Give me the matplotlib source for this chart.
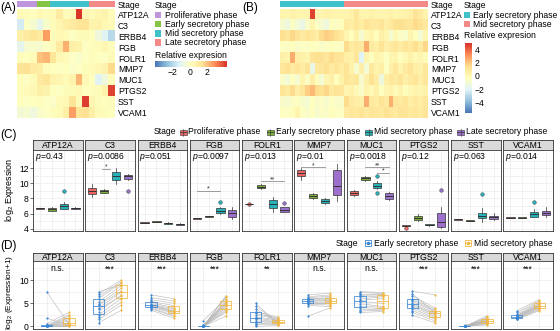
import numpy as np
import matplotlib.pyplot as plt
from matplotlib.colors import LinearSegmentedColormap, ListedColormap
from matplotlib.patches import Rectangle

plt.rcParams['font.family'] = ['Liberation Sans', 'DejaVu Sans']
plt.rcParams['mathtext.fontset'] = 'custom'
plt.rcParams['mathtext.rm'] = 'Liberation Sans'
plt.rcParams['mathtext.it'] = 'Liberation Sans:italic'

genes = ['ATP12A', 'C3', 'ERBB4', 'FGB', 'FOLR1', 'MMP7', 'MUC1', 'PTGS2', 'SST', 'VCAM1']
stages = ['Proliferative phase', 'Early secretory phase', 'Mid secretory phase', 'Late secretory phase']
stage_bar_colors = ['#BF96DC', '#86C443', '#3EC1C8', '#F28A88']
box_colors = ['#EC6464', '#7DAF3A', '#23B3B8', '#9C70CC']
pair_colors = ['#3A86D4', '#F2B642']
heat_colors = ['#4575B4', '#91BFDB', '#E0F3F8', '#FFFFBF', '#FEE090', '#FC8D59', '#D73027']

# (A) relative expression, 4 stages
stage_counts_a = [3, 2, 6, 4]
heat_a = [
    [0.3, 0.2, 0.1, 0.4, 0.2, 0.3, 1.0, 0.2, 0.3, 4.2, 0.4, 0.3, 0.5, 0.6, 0.2],
    [-1.5, 0.0, -0.3, -1.0, -0.2, 0.2, 0.5, 0.8, 1.0, 1.2, 1.3, 0.6, 0.7, 0.4, 0.3],
    [0.8, 1.0, 1.2, 1.0, 2.6, 0.2, 0.4, 0.3, 0.0, 0.2, 0.3, 0.1, -0.6, -1.2, -2.0],
    [-1.0, -0.3, -0.2, -0.3, 0.0, 0.2, 1.0, 2.3, 0.8, 0.6, 0.0, 0.2, 0.3, 0.5, 0.2],
    [0.2, 0.1, 0.3, 2.0, 2.2, 1.2, 0.4, 0.3, 0.0, -0.2, 0.0, 0.2, 0.1, 0.0, 0.3],
    [1.3, 1.4, 1.0, 0.8, 0.2, 0.1, 0.0, 0.1, -0.1, 0.0, 0.2, 0.3, 0.4, 0.6, 1.6],
    [0.2, 0.0, 0.3, 1.0, 1.2, 0.6, 0.5, 0.3, 0.6, 2.2, 0.4, 0.1, -1.2, -0.6, 0.2],
    [0.2, 0.3, 0.4, 0.8, 0.6, 0.1, 0.0, 0.2, 0.3, 0.4, 0.1, 0.2, 0.3, 0.6, 4.0],
    [0.1, 0.0, 0.1, 0.2, 0.0, -0.1, 0.3, 0.4, 1.3, 0.3, 4.1, 0.5, 0.2, 0.1, 0.2],
    [-0.4, -0.3, -0.6, -0.2, 0.0, 0.2, 0.3, 0.8, 2.6, 1.2, 1.4, 0.8, 0.3, 0.2, 0.1],
]

# (B) relative expression, early vs mid secretory
stage_counts_b = [13, 17]
heat_b = [
    [0.3, 0.2, 0.4, 0.3, 0.2, 0.3, 4.5, 0.3, 0.2, 0.4, 0.3, 0.2, 0.3, 0.2, 0.4, 1.0, 0.3, 0.2, 0.4, 0.3, 0.2, 0.3, 0.4, 0.2, 0.3, 0.4, 0.5, 1.2, 0.8, 0.3],
    [-0.8, -1.2, -0.5, -1.0, -1.5, -0.6, 0.2, -0.4, -0.8, -1.3, -0.3, -0.5, -0.2, 0.8, 0.6, 1.0, 0.7, 1.2, 0.9, 0.8, 1.1, 0.6, 0.9, 1.3, 1.4, 1.2, 1.0, 1.5, 1.3, 0.9],
    [1.4, 1.0, 1.6, 1.2, 0.8, 1.1, 0.9, 0.7, 1.5, 1.8, 1.6, 1.3, 0.9, 0.2, -0.3, 0.4, -0.8, 0.1, 0.3, -0.2, 0.5, 0.2, -0.9, 0.1, -0.5, -0.7, 0.3, -0.2, -1.0, 0.2],
    [-0.4, -0.5, -0.3, -0.6, -0.4, -0.5, -0.3, -0.4, -0.6, -0.5, -0.3, -0.4, -0.5, 1.5, 0.8, 1.0, 0.9, 2.5, 0.8, 0.6, 1.2, 0.5, 0.8, 1.0, 0.7, 1.1, 0.9, 1.4, 0.8, 1.6],
    [0.5, 0.3, 2.5, 0.6, 0.4, 0.3, 1.2, 1.4, 1.3, 1.0, 1.5, 1.2, 1.1, 0.6, 0.4, 1.0, -2.0, 0.2, -0.3, 0.3, 0.1, -0.4, 0.2, 0.3, -0.2, 0.1, 0.4, 0.0, 0.2, -0.1],
    [1.0, 1.3, 0.8, 1.1, 0.7, 1.2, -1.5, 0.9, 1.0, 1.3, 0.8, 1.1, 0.7, 1.2, 0.4, -0.8, 0.6, -1.0, 0.9, 0.3, 0.6, -0.4, 0.5, 1.0, 0.3, 0.8, 1.2, 0.6, 0.4, 1.0],
    [-0.6, -1.0, -0.3, -0.8, 0.3, -0.5, 0.6, -0.2, -0.9, 0.2, 0.5, -0.3, 0.4, 1.2, 0.9, 1.0, -0.8, 0.5, 1.3, 0.7, -1.2, 0.6, 1.0, 0.8, 1.2, 0.5, 0.9, 1.1, 0.6, 1.0],
    [1.2, 0.8, 1.5, 0.6, 1.0, 1.8, 2.2, 1.5, 1.3, 1.6, 0.9, 1.2, 1.0, 0.2, 0.4, 0.0, -0.6, 0.3, 0.1, 0.5, -0.3, 0.2, 0.4, 0.0, 0.3, -0.2, 0.1, 0.3, 0.2, 0.4],
    [-0.6, -0.8, -0.5, -0.4, -0.7, -0.9, -0.3, -0.6, -0.5, -0.8, -0.4, -0.6, -0.7, 1.5, 0.8, 0.6, 0.5, 2.5, 0.9, 0.7, 1.2, 0.8, 2.4, 1.0, 0.8, 1.1, 0.6, 0.9, 0.7, 1.0],
    [-0.3, -0.5, -0.2, 0.3, -0.4, -0.6, -0.3, -0.8, -0.5, -0.6, -0.2, -0.4, -0.5, 0.8, 1.0, 0.9, 1.2, 0.8, 1.1, 1.0, 0.9, 1.3, 1.0, 0.8, 1.2, 1.1, 0.9, 1.0, 0.8, 1.2],
]

# (C) log2 expression box summaries, per gene x 4 stages
c_pvals = ['0.43', '0.0086', '0.051', '0.0097', '0.013', '0.01', '0.0018', '0.12', '0.063', '0.014']
c_med = [[6.7, 6.55, 7.0, 6.7], [9.0, 9.0, 10.9, 10.9], [4.8, 4.95, 4.75, 4.6],
         [5.38, 5.62, 6.34, 6.04], [7.27, 9.56, 7.27, 6.5], [11.42, 8.3, 7.65, 9.66],
         [8.77, 10.68, 9.7, 8.33], [4.4, 5.46, 4.5, 4.93], [5.24, 5.06, 5.72, 5.5],
         [5.46, 5.46, 5.9, 6.1]]
c_q1 = [[6.65, 6.34, 6.6, 6.62], [8.56, 8.77, 10.45, 10.58], [4.74, 4.88, 4.69, 4.53],
        [5.33, 5.57, 6.04, 5.59], [7.22, 9.35, 6.78, 6.25], [11.02, 8.03, 7.36, 8.46],
        [8.46, 10.45, 9.35, 7.93], [4.36, 5.15, 4.43, 4.27], [5.2, 5.03, 5.38, 5.28],
        [5.42, 5.42, 5.59, 5.81]]
c_q3 = [[6.76, 6.78, 7.23, 6.78], [9.43, 9.13, 11.55, 11.1], [4.86, 5.02, 4.81, 4.67],
        [5.43, 5.67, 6.7, 6.48], [7.32, 9.75, 7.8, 6.83], [11.78, 8.56, 7.93, 11.7],
        [9.0, 10.8, 10.0, 8.68], [4.44, 5.72, 4.57, 6.04], [5.28, 5.09, 6.04, 5.72],
        [5.5, 5.5, 6.17, 6.35]]
c_lo = [[6.6, 6.3, 6.55, 6.58], [8.24, 8.7, 9.88, 10.5], [4.7, 4.85, 4.65, 4.48],
        [5.28, 5.52, 5.95, 5.3], [7.18, 9.25, 6.25, 6.15], [10.45, 7.9, 7.25, 7.67],
        [8.3, 10.35, 9.2, 7.8], [4.32, 5.0, 4.38, 4.15], [5.15, 5.0, 4.93, 5.2],
        [5.38, 5.38, 5.5, 5.6]]
c_hi = [[6.8, 6.85, 7.5, 6.82], [9.88, 9.2, 12.0, 11.2], [4.9, 5.06, 4.85, 4.72],
        [5.48, 5.72, 6.9, 6.9], [7.36, 9.85, 8.24, 6.9], [12.0, 8.7, 8.05, 12.5],
        [9.1, 10.9, 10.3, 8.9], [4.48, 5.9, 4.62, 6.9], [5.32, 5.12, 6.7, 6.04],
        [5.54, 5.54, 6.6, 6.9]]
c_out = [[[], [], [9.04], []], [[], [], [], [9.0]], [[], [], [], []],
         [[], [], [7.58], []], [[7.3], [], [], [7.45]], [[], [], [], []],
         [[], [], [11.0, 8.68], []], [[4.05], [], [], [9.13]], [[], [], [8.56], []],
         [[], [], [7.58], []]]
# significance bars: gene index, from group, to group, height, label
c_sig = [(1, 1.8, 2.5, 11.9, '*'), (3, 1, 3, 9.0, '*'), (4, 2, 4, 10.3, '**'),
         (5, 1, 3, 12.1, '*'), (6, 2, 4, 12.1, '**'), (6, 3, 4, 11.4, '*')]

# (D) paired log2(expression+1), early vs mid secretory
d_labels = ['n.s.', '***', '***', '***', '**', 'n.s.', 'n.s.', '***', '***', '***']
d_early = [
    [7.5, 1.8, 0.6, 0.2, 0.1, 0, 0, 0, 0, 0, 0, 0, 0.3, 0],
    [0.8, 1.5, 2.0, 2.5, 3.2, 4.0, 4.6, 4.8, 5.3, 6.0, 6.5, 7.0, 7.5, 3.8],
    [3.5, 3.8, 4.0, 4.2, 4.4, 4.5, 4.6, 4.7, 4.9, 5.2, 5.4, 5.8, 6.2, 6.8],
    [0, 0, 0, 0, 0, 0.1, 0.2, 0, 0, 0.3, 0, 1.2, 0, 0],
    [0, 0.5, 0.8, 1.2, 1.5, 1.8, 2.0, 2.5, 2.8, 3.2, 3.7, 4.3, 5.0, 0.3],
    [2.2, 4.5, 4.8, 5.0, 5.1, 5.3, 5.4, 5.5, 5.7, 5.9, 6.0, 6.2, 6.4, 6.8],
    [3.0, 3.3, 3.6, 4.0, 4.4, 4.9, 5.3, 5.6, 5.9, 6.3, 6.7, 7.0, 7.3, 7.5],
    [2.4, 3.0, 3.4, 3.8, 4.2, 4.5, 4.7, 5.0, 5.4, 5.7, 6.0, 6.6, 7.0, 7.6],
    [0, 0, 0, 0, 0.1, 0, 0, 0, 0.2, 0, 0, 0, 0, 0],
    [1.5, 1.6, 1.7, 1.8, 1.9, 2.0, 2.0, 2.1, 2.2, 2.3, 2.4, 2.6, 3.0, 3.4],
]
d_mid = [
    [0.5, 0.2, 3.0, 2.5, 1.8, 1.2, 0.8, 0.4, 0.2, 0, 0, 1.5, 0.6, 2.2],
    [3.5, 4.6, 5.2, 6.0, 6.8, 7.4, 7.6, 8.2, 8.8, 9.3, 9.6, 10.0, 9.0, 6.5],
    [1.8, 2.2, 2.4, 2.8, 3.0, 3.2, 3.3, 3.5, 3.8, 4.0, 4.5, 5.0, 5.5, 6.0],
    [2.2, 3.0, 3.3, 3.6, 4.0, 4.3, 4.6, 4.8, 5.0, 5.2, 5.6, 6.0, 6.3, 6.6],
    [0.2, 0.4, 0.6, 0.8, 1.0, 1.2, 1.4, 1.6, 1.8, 2.0, 0.9, 1.1, 0.5, 1.3],
    [4.0, 4.3, 4.6, 4.9, 5.1, 5.3, 5.5, 5.6, 5.8, 6.0, 6.2, 6.5, 6.8, 7.2],
    [3.2, 3.5, 3.7, 3.9, 4.1, 4.3, 5.0, 6.0, 6.4, 6.6, 6.8, 7.0, 7.1, 7.3],
    [0.8, 1.2, 1.6, 1.9, 2.2, 2.5, 2.7, 2.9, 3.2, 3.4, 3.7, 4.0, 3.0, 6.8],
    [0.3, 0.5, 0.7, 0.8, 0.9, 1.0, 1.1, 1.2, 1.3, 1.5, 1.6, 1.8, 2.0, 2.3],
    [3.4, 3.6, 3.8, 4.0, 4.1, 4.3, 4.4, 4.5, 4.6, 4.8, 5.0, 5.3, 5.5, 5.8],
]

W, H = 560, 331
fig = plt.figure(figsize=(W / 100, H / 100), dpi=100)
heat_cmap = LinearSegmentedColormap.from_list('heat', heat_colors)


def px_axes(x0, y0, x1, y1):
    # axes placed in pixel coords, origin top-left
    return fig.add_axes([x0 / W, 1 - y1 / H, (x1 - x0) / W, (y1 - y0) / H])


def clean(ax):
    for s in ax.spines.values():
        s.set_visible(False)


def heatmap(x0, x1, data, counts, colors, vmin, vmax):
    ax = px_axes(x0, 9, x1, 118)
    im = ax.imshow(np.array(data), cmap=heat_cmap, vmin=vmin, vmax=vmax,
                   aspect='auto', interpolation='nearest')
    ax.set_xticks([])
    ax.set_yticks(range(len(genes)), genes)
    ax.yaxis.tick_right()
    ax.tick_params(length=0, labelsize=6.2, pad=2)
    clean(ax)
    bar = px_axes(x0, 1, x1, 7)
    codes = np.repeat(np.arange(len(counts)), counts)[None, :]
    bar.imshow(codes, cmap=ListedColormap(colors), vmin=-0.5, vmax=len(colors) - 0.5,
               aspect='auto', interpolation='nearest')
    bar.set_xticks([])
    bar.set_yticks([0], ['Stage'])
    bar.yaxis.tick_right()
    bar.tick_params(length=0, labelsize=6.2, pad=2)
    clean(bar)
    return im


im_a = heatmap(17, 115, heat_a, stage_counts_a, stage_bar_colors, -4.1, 4.3)
im_b = heatmap(280, 428, heat_b, stage_counts_b, stage_bar_colors[2:], -5.5, 4.9)

cax_a = px_axes(155, 61, 227, 67)
cb = fig.colorbar(im_a, cax=cax_a, orientation='horizontal', ticks=[-2, 0, 2])
cb.outline.set_visible(False)
cb.ax.tick_params(length=0, labelsize=6.2, pad=1)

cax_b = px_axes(465, 43, 472, 113)
cb = fig.colorbar(im_b, cax=cax_b, ticks=[-4, -2, 0, 2, 4])
cb.outline.set_visible(False)
cb.ax.tick_params(length=0, labelsize=6.2, pad=2)


def style_panel(ax, first, yticks, yminor):
    ax.set_yticks(yticks)
    ax.set_yticks(yminor, minor=True)
    ax.grid(True, which='both', color='#EBEBEB', lw=0.5)
    ax.set_axisbelow(True)
    ax.tick_params(axis='x', length=0, labelbottom=False)
    ax.tick_params(which='minor', length=0)
    if first:
        ax.tick_params(axis='y', length=2, width=0.5, labelsize=6.2, pad=1, color='#333333')
    else:
        ax.tick_params(axis='y', length=0, labelleft=False)
    for s in ax.spines.values():
        s.set_color('#333333')
        s.set_linewidth(0.6)


def strip(x0, y0, y1, text):
    st = px_axes(x0, y0, x0 + 49.5, y1)
    st.set_facecolor('#D9D9D9')
    st.set_xticks([])
    st.set_yticks([])
    for s in st.spines.values():
        s.set_color('#333333')
        s.set_linewidth(0.6)
    st.text(0.5, 0.45, text, ha='center', va='center', fontsize=6.2, transform=st.transAxes)


# (C)
for i, g in enumerate(genes):
    x0 = 33 + i * 52.26
    strip(x0, 140, 150, g)
    ax = px_axes(x0, 150, x0 + 49.5, 231)
    stats = [dict(med=c_med[i][k], q1=c_q1[i][k], q3=c_q3[i][k], whislo=c_lo[i][k],
                  whishi=c_hi[i][k], fliers=c_out[i][k]) for k in range(4)]
    bp = ax.bxp(stats, positions=[1, 2, 3, 4], widths=0.7, patch_artist=True, showcaps=False,
                boxprops=dict(lw=0.5, edgecolor='#333333'),
                medianprops=dict(color='#333333', lw=0.7),
                whiskerprops=dict(color='#333333', lw=0.5),
                flierprops=dict(marker='o', markersize=2.6, markeredgewidth=0.3,
                                markeredgecolor='#333333'))
    for patch, fl, col in zip(bp['boxes'], bp['fliers'], box_colors):
        patch.set_facecolor(col)
        fl.set_markerfacecolor(col)
    ax.set_xlim(0.4, 4.6)
    ax.set_ylim(3.7, 14.4)
    ax.set_xticks([1, 2, 3, 4])
    style_panel(ax, i == 0, [4, 6, 8, 10, 12], [5, 7, 9, 11, 13])
    ax.text(0.04, 0.915, '$p$=' + c_pvals[i], transform=ax.transAxes, fontsize=6.2, va='center')
    for gi, a, b, y, lab in c_sig:
        if gi == i:
            ax.plot([a, b], [y, y], color='#777777', lw=0.5)
            ax.text((a + b) / 2, y - 0.25, lab, ha='center', va='bottom', fontsize=5, color='#333333')

# (D)
for i, g in enumerate(genes):
    x0 = 33 + i * 52.26
    strip(x0, 253, 261, g)
    ax = px_axes(x0, 261, x0 + 49.5, 328.5)
    for e, m in zip(d_early[i], d_mid[i]):
        ax.plot([1, 2], [e, m], color='#B5B5B5', lw=0.4, zorder=2)
    bp = ax.boxplot([d_early[i], d_mid[i]], positions=[1, 2], widths=0.5, showfliers=False,
                    showcaps=False, patch_artist=True)
    for k, col in enumerate(pair_colors):
        bp['boxes'][k].set(facecolor='none', edgecolor=col, lw=0.7, alpha=0.8)
        bp['medians'][k].set(color=col, lw=0.7, alpha=0.8)
        for w in bp['whiskers'][2 * k:2 * k + 2]:
            w.set(color=col, lw=0.6, alpha=0.8)
    ax.scatter([1] * len(d_early[i]), d_early[i], s=2.5, color=pair_colors[0], zorder=3, lw=0)
    ax.scatter([2] * len(d_mid[i]), d_mid[i], s=2.5, color=pair_colors[1], zorder=3, lw=0)
    ax.set_xlim(0.4, 2.6)
    ax.set_ylim(-0.45, 14.1)
    ax.set_xticks([1, 2])
    style_panel(ax, i == 0, [0, 5, 10], [2.5, 7.5, 12.5])
    ax.text(1.5, 12.4, d_labels[i], ha='center', va='center', fontsize=6.2)

# overlay for legends and panel letters (pixel coords)
ov = fig.add_axes([0, 0, 1, 1])
ov.set_xlim(0, W)
ov.set_ylim(H, 0)
ov.axis('off')

for lab, x, y in [('(A)', 0, 8), ('(B)', 242, 8), ('(C)', 0, 135), ('(D)', 0, 246)]:
    ov.text(x, y, lab, fontsize=8.5, va='center', ha='left')

# legend A
ov.text(155, 5, 'Stage', fontsize=6.2, va='center')
for k, (name, col) in enumerate(zip(stages, stage_bar_colors)):
    y = 15 + k * 9.2
    ov.add_patch(Rectangle((155, y - 3.2), 5.5, 6.4, color=col, lw=0))
    ov.text(165, y, name, fontsize=6.2, va='center')
ov.text(155, 55, 'Relative expresion', fontsize=6.2, va='center')

# legend B
ov.text(464, 5.5, 'Stage', fontsize=6.2, va='center')
for k, (name, col) in enumerate(zip(stages[1:3], stage_bar_colors[2:])):
    y = 15 + k * 9.2
    ov.add_patch(Rectangle((464, y - 3.2), 6, 6.4, color=col, lw=0))
    ov.text(473, y, name, fontsize=6.2, va='center')
ov.text(464, 35, 'Relative expresion', fontsize=6.2, va='center')

# legend C
ov.text(154, 132, 'Stage', fontsize=6.2, va='center')
key_x = [179.5, 266.5, 365, 457]
for kx, name, col in zip(key_x, stages, box_colors):
    ov.plot([kx + 3.5, kx + 3.5], [128.5, 135.5], color='#333333', lw=0.4)
    ov.add_patch(Rectangle((kx, 129.5), 7, 5, facecolor=col, edgecolor='#333333', lw=0.4))
    ov.plot([kx, kx + 7], [132, 132], color='#333333', lw=0.5)
    ov.text(kx + 9, 132, name, fontsize=6.2, va='center')

# legend D
ov.text(336, 243, 'Stage', fontsize=6.2, va='center')
key_x = [364.5, 465]
for kx, name, col in zip(key_x, stages[1:3], pair_colors):
    ov.add_patch(Rectangle((kx, 240), 6, 6, facecolor='none', edgecolor=col, lw=0.6))
    ov.plot([kx, kx + 6], [243, 243], color=col, lw=0.5)
    ov.plot([kx + 3], [243], 'o', color=col, ms=1.5)
    ov.text(kx + 9, 243, name, fontsize=6.2, va='center')

ov.text(10, 190, 'log$_2$ Expression', fontsize=6.5, rotation=90, ha='center', va='center')
ov.text(10, 292, 'log$_2$ (Expression+1)', fontsize=6, rotation=90, ha='center', va='center')

fig.savefig('out.png', dpi=100)
